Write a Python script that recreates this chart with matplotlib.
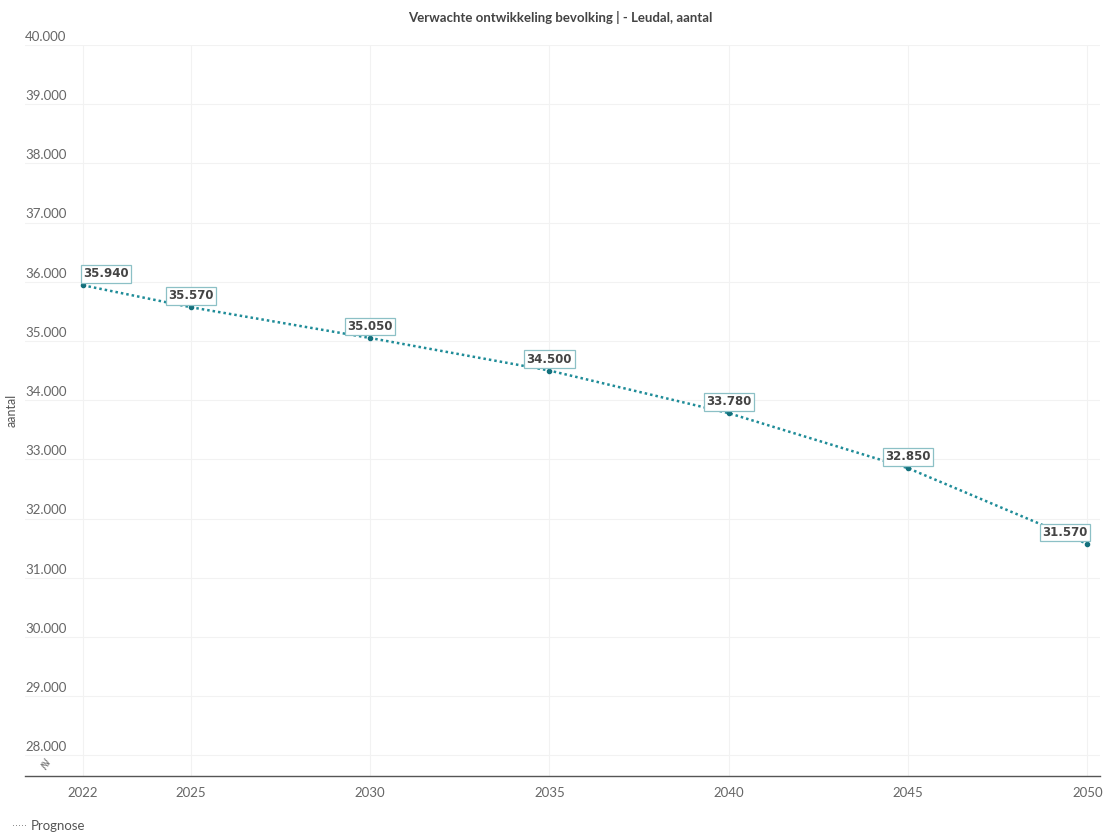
import numpy as np
from matplotlib import pyplot as plt
from matplotlib import transforms

years = [2022, 2025, 2030, 2035, 2040, 2045, 2050]
bevolking = [35940, 35570, 35050, 34500, 33780, 32850, 31570]
labels = ["35.940", "35.570", "35.050", "34.500", "33.780", "32.850", "31.570"]
y_ticks = [28000, 29000, 30000, 31000, 32000, 33000, 34000, 35000, 36000, 37000, 38000, 39000, 40000]
title = "Verwachte ontwikkeling bevolking | - Leudal, aantal"

plt.rcParams['font.family'] = ['Lato', 'DejaVu Sans']

fig = plt.figure(figsize=(11.04, 8.33), dpi=100)
W, H = 1104, 833
ax = fig.add_axes([25 / W, 1 - 776 / H, 1075 / W, 731 / H])

line_col = '#1f8c98'
ax.plot(years, bevolking, linestyle=(0, (1, 1.2)), color=line_col, linewidth=1.8,
        marker='o', markersize=3, markerfacecolor='#13707c', markeredgecolor='#13707c')

ax.set_xlim(2020.38, 2050.35)
ax.set_ylim(27650, 40000)
ax.set_xticks(years)
ax.set_xticklabels([str(y) for y in years], color='#666666', fontsize=9.5)
ax.set_yticks(y_ticks)
ax.set_yticklabels([])
ax.tick_params(axis='both', length=0)
ax.tick_params(axis='x', pad=8)
ax.grid(color='#f2f2f2', linewidth=0.8)
for s in ['top', 'right', 'left']:
    ax.spines[s].set_visible(False)
ax.spines['bottom'].set_color('#555555')
ax.spines['bottom'].set_linewidth(1.0)

# y tick labels just above the gridlines
trans = transforms.blended_transform_factory(ax.transAxes, ax.transData)
for v in y_ticks:
    ax.text(0.0, v, f"{v:,}".replace(",", "."),
            transform=trans + transforms.ScaledTranslation(0, 1.5 / 72, fig.dpi_scale_trans),
            ha='left', va='bottom', fontsize=9.5, color='#666666')

# axis break symbol
ax.text(0.017, 27830, "≷", transform=trans, ha='center', va='center', fontsize=9, color='#777777',
        family=['DejaVu Sans'], rotation=-30)

# data labels
for i, (x, y, lab) in enumerate(zip(years, bevolking, labels)):
    ha = 'center'
    if i == 0:
        ha = 'left'
    elif i == len(years) - 1:
        ha = 'right'
    ax.annotate(lab, (x, y), xytext=(0, 3.5), textcoords='offset points', ha=ha, va='bottom',
                fontsize=8.5, fontweight='bold', color='#444444', family=['DejaVu Sans'],
                bbox=dict(boxstyle='square,pad=0.2', facecolor='white', edgecolor='#8cc0c6', linewidth=0.9))

fig.text(25 / W - 0.012, 1 - 410 / H, "aantal", rotation=90, ha='center', va='center', fontsize=9, color='#555555')
fig.text(560 / W, 1 - 17 / H, title, ha='center', va='center', fontsize=9.5, fontweight='bold', color='#444444')

# legend
fig.text(12 / W, 1 - 826 / H, "·····", ha='left', va='center', fontsize=7, color='#777777', family=['DejaVu Sans'])
fig.text(31 / W, 1 - 826 / H, "Prognose", ha='left', va='center', fontsize=9.5, color='#555555')

fig.savefig("out.png", dpi=100, facecolor='white')
